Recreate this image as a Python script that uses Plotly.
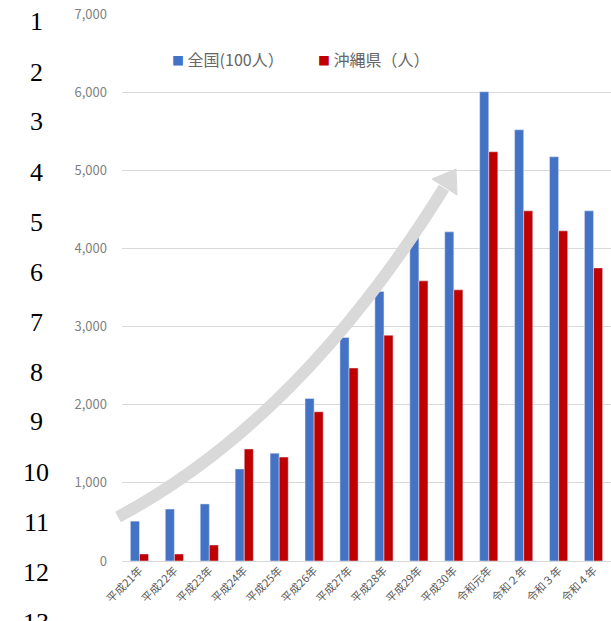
import plotly.graph_objects as go

categories = ["平成21年", "平成22年", "平成23年", "平成24年", "平成25年", "平成26年", "平成27年",
              "平成28年", "平成29年", "平成30年", "令和元年", "令和２年", "令和３年", "令和４年"]
national_100 = [510, 665, 730, 1178, 1380, 2080, 2860, 3450, 4180, 4212, 6005, 5518, 5173, 4481]
okinawa = [90, 90, 205, 1434, 1330, 1910, 2470, 2890, 3585, 3470, 5237, 4481, 4225, 3751]
series_names = ["全国(100人）", "沖縄県（人）"]
series_colors = ["#4472C4", "#C00000"]
line_numbers = [str(i) for i in range(1, 14)]

W, H = 611, 621
L, R, T, B = 122, 0, 14, 60
pw, ph = W - L - R, H - T - B

def px(x):
    return (x - L) / pw

def py(y):
    return (H - B - y) / ph

fig = go.Figure()
fig.add_trace(go.Bar(x=categories, y=national_100, name=series_names[0],
                     marker_color=series_colors[0], showlegend=False))
fig.add_trace(go.Bar(x=categories, y=okinawa, name=series_names[1],
                     marker_color=series_colors[1], showlegend=False))

# legend drawn as text
for xpos, name, col in zip([170, 316], series_names, series_colors):
    fig.add_annotation(text=f'<span style="color:{col};font-size:12px">■</span> {name}',
                       xref="paper", yref="paper", x=px(xpos), y=py(59),
                       xanchor="left", yanchor="middle", showarrow=False,
                       font=dict(size=16, color="#666666"))

# curved arrow (decoration)
sx, sy = px(118), py(517)
cx, cy = px(300), py(420)
ex, ey = px(444), py(188)
fig.add_shape(type="path", xref="paper", yref="paper",
              path=f"M {sx},{sy} Q {cx},{cy} {ex},{ey}",
              line=dict(color="#d9d9d9", width=12), layer="above")
fig.add_shape(type="path", xref="paper", yref="paper",
              path=f"M {px(456)},{py(169)} L {px(432)},{py(179)} L {px(457)},{py(195)} Z",
              fillcolor="#d9d9d9", line=dict(color="#d9d9d9", width=1), layer="above")

for i, t in enumerate(line_numbers):
    fig.add_annotation(text=t, xref="paper", yref="paper", x=px(36), y=py(22 + 50 * i),
                       showarrow=False, xanchor="center", yanchor="middle",
                       font=dict(family="Liberation Serif, DejaVu Serif, serif", size=26, color="#000000"))

fig.update_layout(
    width=W, height=H,
    margin=dict(l=L, r=R, t=T, b=B, pad=0),
    paper_bgcolor="white", plot_bgcolor="white",
    barmode="group", bargap=0.48, bargroupgap=0,
    font=dict(family="Noto Sans CJK JP, Noto Sans, sans-serif", color="#595959"),
    showlegend=False,
    xaxis=dict(tickangle=-45, tickfont=dict(size=11, color="#595959"), showgrid=False,
               showline=False, ticks="", range=[-0.5, 13.5]),
    yaxis=dict(range=[0, 7000], dtick=1000, tickformat=",", showgrid=True, gridcolor="#d9d9d9",
               gridwidth=1, zeroline=True, zerolinecolor="#d9d9d9", zerolinewidth=1,
               tickfont=dict(size=13, color="#7f7f7f"), ticks="", ticklabelstandoff=14),
)

fig.write_html("out.html", config={"displayModeBar": False},
               post_script="document.body.style.margin='0';")
